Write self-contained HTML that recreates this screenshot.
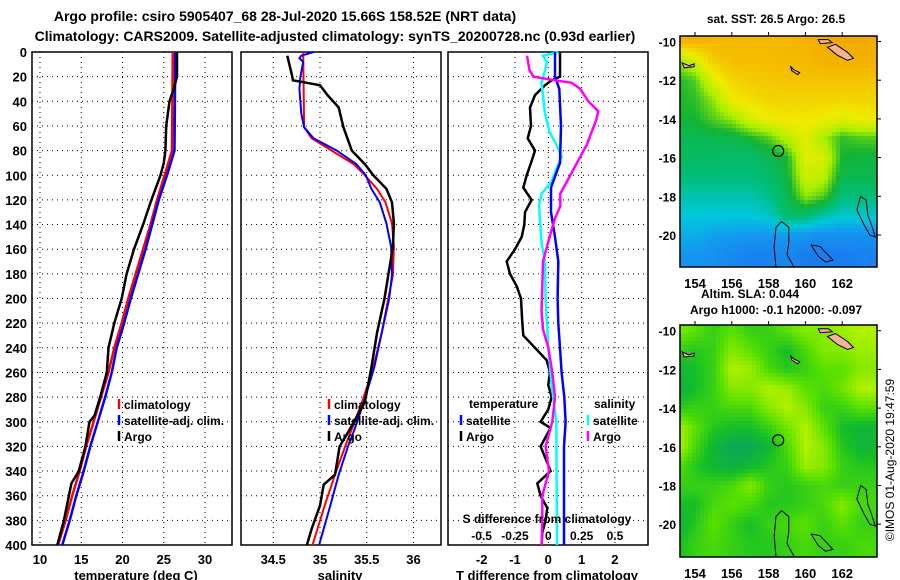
<!DOCTYPE html>
<html><head><meta charset="utf-8"><style>
html,body{margin:0;padding:0;background:#fff;}
svg{display:block;font-family:"Liberation Sans",sans-serif;font-weight:bold;}
</style></head><body>
<svg id="chart" xmlns="http://www.w3.org/2000/svg" width="900" height="580" viewBox="0 0 900 580">
<text x="285" y="21" font-size="14" text-anchor="middle">Argo profile: csiro 5905407_68 28-Jul-2020 15.66S 158.52E (NRT data)</text>
<text x="335" y="41" font-size="14" text-anchor="middle">Climatology: CARS2009. Satellite-adjusted climatology: synTS_20200728.nc (0.93d earlier)</text>
<g id="layer"></g>
</svg>
<script>
// ---------- data ----------
const depthTicks=[0,20,40,60,80,100,120,140,160,180,200,220,240,260,280,300,320,340,360,380,400];
const tempTicks=[10,15,20,25,30];
const salTicks=[34.5,35,35.5,36];
const tdiffTicks=[-2,-1,0,1,2];
const sdiffTicks=[-0.5,-0.25,0,0.25,0.5];
const sdiffLabels=["-0.5","-0.25","0","0.25","0.5"];

const argoTDepth=[0,20,30,40,60,80,90,100,120,140,160,180,200,220,240,260,280,295,300,320,340,350,360,380,400];
const argoT=[26.6,26.6,26.2,25.7,25.3,25.2,25.0,24.6,23.5,22.5,21.4,20.5,19.9,19.0,18.3,18.1,17.3,16.6,16.0,15.5,14.7,13.8,13.5,12.9,12.1];
const climTDepth=[0,80,100,120,140,160,180,200,220,240,260,280,300,320,340,360,380,400];
const climT=[26.1,26.0,25.1,24.2,23.4,22.5,21.6,20.7,19.9,19.0,18.3,17.4,16.5,15.6,14.8,13.9,13.1,12.2];
const satT=[26.4,26.3,25.4,24.4,23.6,22.8,21.9,21.0,20.2,19.3,18.7,17.9,17.0,16.1,15.3,14.4,13.6,12.7];

const argoSDepth=[3,19,23,25,27,35,45,61,80,91,100,111,122,139,158,181,200,228,256,284,306,320,343,351,368,387,400];
const argoS=[34.65,34.70,34.71,34.86,35.0,35.08,35.2,35.25,35.34,35.48,35.57,35.71,35.77,35.79,35.78,35.73,35.69,35.61,35.55,35.48,35.32,35.21,35.16,35.04,35.0,34.91,34.86];
const climSDepth=[0,61,70,80,91,100,111,122,139,158,181,200,228,256,284,306,320,343,368,400];
const climS=[34.82,34.83,34.91,35.125,35.36,35.48,35.61,35.70,35.77,35.79,35.78,35.73,35.66,35.57,35.45,35.34,35.27,35.16,35.05,34.92];
const satSDepth=[0,3,5,8,20,30,50,61,70,80,91,100,111,122,139,158,181,200,228,256,284,306,320,343,368,400];
const satS=[34.93,34.80,34.78,34.82,34.79,34.78,34.80,34.83,34.93,35.18,35.39,35.49,35.55,35.64,35.71,35.76,35.77,35.74,35.66,35.58,35.47,35.37,35.30,35.20,35.11,34.99];

const tArgoDiffDepth=[0,20,23,27,35,45,60,70,80,90,100,110,120,130,140,150,160,170,180,190,200,220,230,240,250,260,270,280,290,300,305,320,330,340,350,360,370,380,390,400];
const tArgoDiff=[0.35,0.35,0.1,-0.1,-0.4,-0.55,-0.52,-0.62,-0.4,-0.52,-0.65,-0.75,-0.5,-0.7,-0.72,-0.8,-1.0,-1.25,-1.15,-0.95,-0.82,-0.78,-0.75,-0.4,-0.05,0.05,0,0.1,0,-0.23,0.07,-0.23,-0.08,0.07,-0.33,-0.23,-0.03,-0.08,-0.18,-0.2];
const tSatDiffDepth=[0,20,30,60,90,110,130,150,170,200,220,240,260,280,300,320,400];
const tSatDiff=[0.2,0.2,0.33,0.38,0.35,0.08,0.08,0.2,0.3,0.28,0.3,0.35,0.4,0.48,0.52,0.47,0.47];
const sSatDiffDepth=[0,3,8,15,25,35,50,65,75,85,95,105,115,125,140,155,170,200,240,270,300,400];
const sSatDiff=[0.075,-0.04,-0.01,-0.025,-0.05,-0.04,-0.025,0.01,0.06,0.1,0.06,0.025,-0.05,-0.07,-0.06,-0.05,-0.025,-0.02,0,0.025,0.06,0.065];
const sArgoDiffDepth=[3,15,20,23,25,30,40,48,55,65,75,85,95,105,115,125,135,150,170,190,210,225,240,260,280,300,320,340,360,380,400];
const sArgoDiff=[-0.16,-0.14,-0.11,0.05,0.175,0.24,0.3,0.375,0.36,0.325,0.29,0.24,0.19,0.14,0.09,0.09,0.05,0.01,-0.04,-0.045,-0.05,-0.04,0,0.03,0.05,0.03,-0.02,0.005,-0.045,-0.045,-0.05];

const mapLons=[154,156,158,160,162];
const mapLats=[-10,-12,-14,-16,-18,-20];
const sstGrid=[
[.88,.88,.87,.86,.86,.86,.87,.88,.9,.9,.9],
[.6,.7,.82,.85,.85,.85,.86,.86,.88,.88,.88],
[.5,.55,.72,.8,.82,.83,.84,.84,.84,.84,.84],
[.5,.52,.6,.75,.78,.8,.8,.8,.8,.8,.8],
[.5,.5,.55,.6,.7,.75,.76,.76,.75,.72,.75],
[.45,.45,.46,.46,.5,.55,.65,.72,.62,.52,.55],
[.44,.43,.43,.42,.42,.45,.5,.72,.7,.5,.48],
[.4,.4,.4,.4,.4,.42,.48,.68,.65,.46,.46],
[.35,.35,.35,.35,.35,.38,.45,.6,.55,.4,.4],
[.3,.3,.3,.3,.3,.32,.42,.42,.35,.32,.32],
[.25,.25,.22,.22,.2,.2,.22,.2,.18,.18,.18],
[.2,.2,.18,.15,.12,.12,.15,.1,.1,.1,.12]];
const slaGrid=[
[.7,.6,.5,.6,.5,.5,.6,.7,.7,.75,.8],
[.5,.45,.5,.7,.6,.5,.4,.55,.7,.7,.75],
[.35,.4,.5,.8,.75,.55,.45,.5,.6,.6,.7],
[.3,.4,.5,.7,.7,.8,.75,.6,.55,.65,.8],
[.45,.5,.5,.55,.55,.7,.8,.7,.5,.5,.6],
[.8,.6,.45,.4,.4,.5,.65,.8,.6,.4,.35],
[.85,.55,.35,.25,.25,.35,.55,.8,.7,.45,.35],
[.6,.45,.35,.3,.35,.45,.5,.75,.7,.5,.45],
[.5,.5,.5,.55,.7,.5,.45,.5,.55,.5,.5],
[.4,.4,.55,.6,.55,.45,.45,.5,.55,.7,.55],
[.3,.45,.6,.5,.4,.5,.55,.6,.5,.6,.5],
[.4,.5,.55,.5,.45,.45,.5,.55,.5,.5,.55]];
const floatLon=158.52, floatLat=-15.66;
const contourA=[[158.4,-21.7],[158.3,-20.6],[158.4,-19.6],[158.7,-19.3],[159.1,-19.6],[159.1,-20.4],[159.0,-21.0],[159.4,-21.7]];
const contourB=[[162.8,-18.7],[163.0,-18.0],[163.3,-18.2],[163.4,-19.0],[163.6,-19.5],[163.8,-20.1],[163.5,-20.0],[163.2,-19.5],[162.8,-18.7]];
const contourC=[[160.3,-20.5],[160.8,-20.6],[161.2,-21.0],[161.5,-21.3],[161.1,-21.4],[160.7,-21.1],[160.3,-20.5]];

// ---------- drawing ----------
const NS="http://www.w3.org/2000/svg";
const layer=document.getElementById('layer');
function mk(tag,attrs,parent){const e=document.createElementNS(NS,tag);for(const k in attrs)e.setAttribute(k,attrs[k]);(parent||layer).appendChild(e);return e;}
function txt(x,y,s,size,anchor,parent){const t=mk('text',{x:x,y:y,'font-size':size,'text-anchor':anchor||'middle'},parent);t.textContent=s;return t;}

const Y0=52,Y1=545;
const yD=d=>Y0+d*(Y1-Y0)/400;
const xTemp=t=>40+(t-10)*8.25;
const xSal=s=>320+(s-35)*93.5;
const xTd=v=>548.3+v*33.3;
const xSd=v=>548.3+v*133.3;

function panel(x0,x1,xticks,xf,name){
  const g=mk('g',{});
  
  
  depthTicks.forEach(d=>{if(d>0&&d<400){const l=mk('line',{x1:x0,x2:x1,y1:yD(d),y2:yD(d),stroke:'#000','stroke-width':1,'stroke-dasharray':'1,4'},g);
    }});
  xticks.forEach(v=>{const x=xf(v);const l=mk('line',{x1:x,x2:x,y1:Y0,y2:Y1,stroke:'#000','stroke-width':1,'stroke-dasharray':'1,4'},g);
    });
  const r=mk('rect',{x:x0,y:Y0,width:x1-x0,height:Y1-Y0,fill:'none',stroke:'#000','stroke-width':1.5},g);
  
  return g;
}
function line(g,depths,vals,xf,color,w,name){
  const pts=depths.map((d,i)=>xf(vals[i]).toFixed(1)+','+yD(d).toFixed(1)).join(' ');
  const p=mk('polyline',{points:pts,fill:'none',stroke:color,'stroke-width':w,'stroke-linejoin':'miter'},g);
  
  
}
function legendEntry(g,x,y,color,label,name){
  const b=mk('line',{x1:x,x2:x,y1:y-10,y2:y,stroke:color,'stroke-width':2.5},g);
  
  const t=txt(x+5,y,label,12,'start',g);
  
}

// Panel 1: temperature
const p1=panel(32,232,tempTicks,xTemp,'temperature-panel');
depthTicks.forEach(d=>{const t=txt(27,yD(d)+5,String(d),13,'end',p1);});
tempTicks.forEach(v=>{const t=txt(xTemp(v),564,String(v),13,'middle',p1);});
const xt1=txt(136,580,'temperature (deg C)',13,'middle',p1);
line(p1,climTDepth,climT,xTemp,'#ff0000',2.5,'climatology-temp-line');
line(p1,climTDepth,satT,xTemp,'#0000ff',2.5,'satellite-temp-line');
line(p1,argoTDepth,argoT,xTemp,'#000',2.5,'argo-temp-line');
legendEntry(p1,119,409,'#ff0000','climatology','legend-climatology');
legendEntry(p1,119,425,'#0000ff','satellite-adj. clim.','legend-satellite');
legendEntry(p1,119,441,'#000','Argo','legend-argo');

// Panel 2: salinity
const p2=panel(241,441,salTicks,xSal,'salinity-panel');
salTicks.forEach(v=>{const t=txt(xSal(v),564,String(v),13,'middle',p2);});
const xt2=txt(340,580,'salinity',13,'middle',p2);
line(p2,climSDepth,climS,xSal,'#ff0000',2,'climatology-sal-line');
line(p2,satSDepth,satS,xSal,'#0000ff',2,'satellite-sal-line');
line(p2,argoSDepth,argoS,xSal,'#000',2.5,'argo-sal-line');
legendEntry(p2,329,409,'#ff0000','climatology','legend-climatology');
legendEntry(p2,329,425,'#0000ff','satellite-adj. clim.','legend-satellite');
legendEntry(p2,329,441,'#000','Argo','legend-argo');

// Panel 3: differences
const p3=panel(448,648,tdiffTicks,xTd,'difference-panel');
tdiffTicks.forEach(v=>{const t=txt(xTd(v),564,String(v),13,'middle',p3);});
const xt3=txt(547,580,'T difference from climatology',13,'middle',p3);
line(p3,tArgoDiffDepth,tArgoDiff,xTd,'#000',2.5,'argo-temp-diff-line');
line(p3,sSatDiffDepth,sSatDiff,xSd,'#00ffff',2.5,'satellite-sal-diff-line');
line(p3,tSatDiffDepth,tSatDiff,xTd,'#0000ff',2.5,'satellite-temp-diff-line');
line(p3,sArgoDiffDepth,sArgoDiff,xSd,'#ff00ff',2.5,'argo-sal-diff-line');
const lt=txt(469,408,'temperature',12,'start',p3);
const ls=txt(594,408,'salinity',12,'start',p3);
legendEntry(p3,461,425,'#0000ff','satellite','legend-temp-satellite');
legendEntry(p3,461,441,'#000','Argo','legend-temp-argo');
legendEntry(p3,588,425,'#00ffff','satellite','legend-sal-satellite');
legendEntry(p3,588,441,'#ff00ff','Argo','legend-sal-argo');
const sdt=txt(547,523,'S difference from climatology',12,'middle',p3);
sdiffTicks.forEach((v,i)=>{const t=txt(xSd(v),540,sdiffLabels[i],12,'middle',p3);});

// ---------- maps ----------
function lerp(a,b,t){return a+(b-a)*t;}
function sample(grid,lon,lat){
  let c=Math.max(0,Math.min(10,lon-153)), r=Math.max(0,Math.min(11,-10-lat));
  const c0=Math.floor(c),r0=Math.floor(r),c1=Math.min(10,c0+1),r1=Math.min(11,r0+1);
  const fc=c-c0,fr=r-r0;
  return lerp(lerp(grid[r0][c0],grid[r0][c1],fc),lerp(grid[r1][c0],grid[r1][c1],fc),fr);
}
function cmap(stops,v){
  for(let i=1;i<stops.length;i++){if(v<=stops[i][0]||i==stops.length-1){const a=stops[i-1],b=stops[i];const t=Math.max(0,Math.min(1,(v-a[0])/(b[0]-a[0])));
    return 'rgb('+[1,2,3].map(k=>Math.round(lerp(a[k],b[k],t))).join(',')+')';}}
}
const sstStops=[[0,30,100,235],[0.2,20,150,240],[0.3,0,200,220],[0.4,0,190,120],[0.5,20,180,50],[0.62,170,240,0],[0.75,240,235,0],[0.85,245,190,0],[0.95,240,150,0]];
const slaStops=[[0.2,10,160,100],[0.4,20,190,40],[0.6,90,225,0],[0.85,200,245,0],[1,220,250,0]];

function drawMap(name,x0,x1,yTop,yBot,latRef,yRef,grid,stops,titleLines){
  const g=mk('g',{});
  
  
  const lonX=lon=>695+(lon-154)*18.4;
  const latY=lat=>yRef+(latRef-lat)*19.35;
  const cs=4;
  for(let y=yTop;y<yBot;y+=cs){for(let x=x0;x<x1;x+=cs){
    const lon=154+(x+cs/2-695)/18.4, lat=latRef-(y+cs/2-yRef)/19.35;
    mk('rect',{x:x,y:y,width:Math.min(cs,x1-x),height:Math.min(cs,yBot-y),fill:cmap(stops,sample(grid,lon,lat))},g);
  }}
  const isl=mk('path',{d:`M${lonX(161.2)} ${latY(-10.3)} l8 -3 l12 8 l6 6 l-6 2 l-10 -5 z M${lonX(160.7)} ${latY(-9.9)} l10 0 l4 3 l-12 1 z M${lonX(159.2)} ${latY(-11.3)} l3 3 l6 3 l-2 2 l-6 -4 z M${lonX(153.3)} ${latY(-11.1)} l7 3 l5 -2 l0 3 l-10 1 z`,fill:'#f4b491',stroke:'#000','stroke-width':1},g);
  
  const toPath=arr=>'M'+arr.map(p=>lonX(p[0]).toFixed(1)+' '+latY(p[1]).toFixed(1)).join(' L');
  const ct=mk('path',{d:toPath(contourA)+' '+toPath(contourB)+' '+toPath(contourC),fill:'none',stroke:'#000','stroke-width':1},g);
  
  const circ=mk('circle',{cx:lonX(floatLon),cy:latY(floatLat),r:5.5,fill:'none',stroke:'#000','stroke-width':1.2},g);
  
  const fr=mk('rect',{x:x0,y:yTop,width:x1-x0,height:yBot-yTop,fill:'none',stroke:'#000','stroke-width':1.5},g);
  
  mapLats.forEach(lat=>{const y=latY(lat);mk('line',{x1:x1,x2:x1+4,y1:y,y2:y,stroke:'#000'},g);
    const t=txt(676,y+5,String(lat),12,'end',g);});
  mapLons.forEach(lon=>{const x=lonX(lon);mk('line',{x1:x,x2:x,y1:yTop-4,y2:yTop,stroke:'#000'},g);
    const t=txt(x,yBot+21,String(lon),13,'middle',g);});
  titleLines.forEach(tl=>{const t=txt(tl[0],tl[1],tl[2],12,'middle',g);});
}
drawMap('sst-map',680,877,36,267,-10,41.5,sstGrid,sstStops,[[776,23,'sat. SST: 26.5 Argo: 26.5','sst-map-title']]);
drawMap('sla-map',680,877,325,557,-10,330.7,slaGrid,slaStops,[[750,298,'Altim. SLA: 0.044','sla-map-title'],[776,314,'Argo h1000: -0.1 h2000: -0.097','sla-map-subtitle']]);
const cr=txt(0,0,'©IMOS 01-Aug-2020 19:47:59',12,'middle');
cr.setAttribute('transform','translate(894,460) rotate(-90)');
cr.setAttribute('font-weight','normal');


</script>
</body></html>
